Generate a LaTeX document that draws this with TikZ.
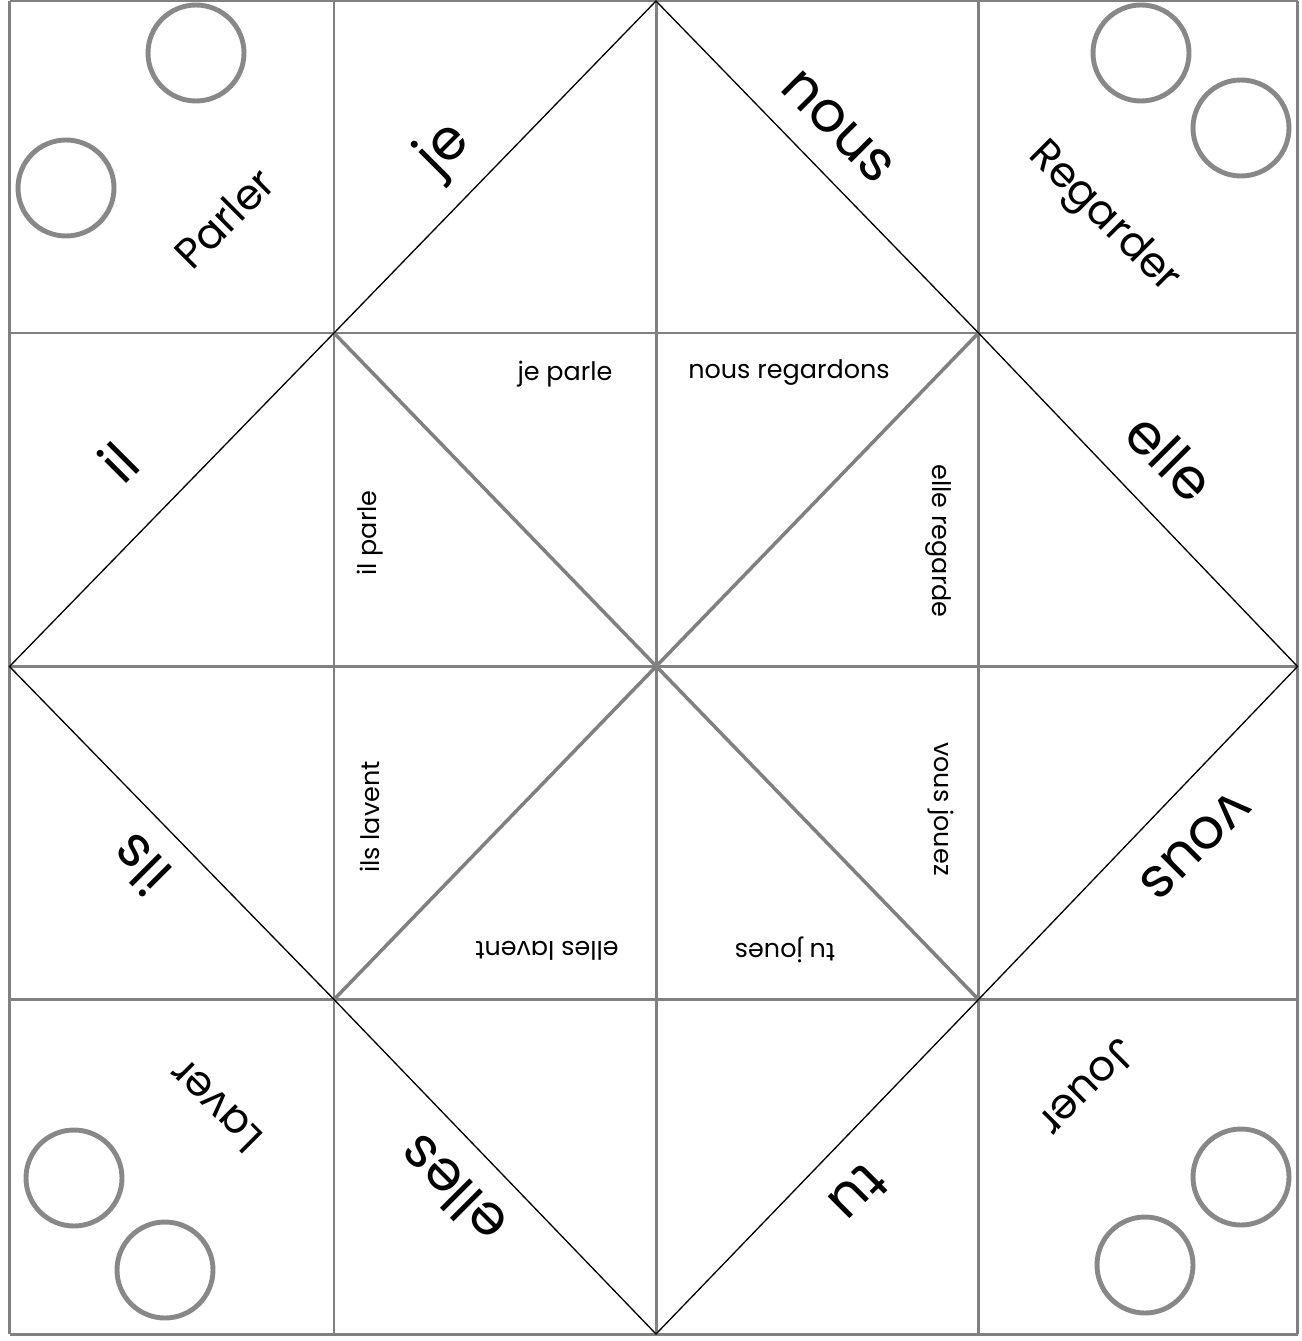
\documentclass[tikz,border=0pt]{standalone}
\usepackage{fontspec}
\setmainfont{Poppins}
\newfontfamily\handfont{Poppins}
\usepackage{xcolor}

\definecolor{foldgray}{RGB}{128,128,128}
\definecolor{ringgray}{RGB}{136,136,136}

\tikzset{
  gridline/.style={foldgray, line width=1.7pt},
  crease/.style={foldgray, line width=2pt},
  foldline/.style={black, line width=0.75pt},
  ring/.style={ringgray, line width=2.8pt},
  bigword/.style={font=\handfont\fontsize{32}{38}\selectfont, inner sep=0pt},
  verbword/.style={font=\handfont\fontsize{24}{29}\selectfont, inner sep=0pt},
  answer/.style={font=\fontsize{14.5}{17}\selectfont, inner sep=0pt}
}

\begin{document}
\begin{tikzpicture}[x=0.02cm, y=-0.02cm]
  \useasboundingbox (0,0) rectangle (1301,1341);

  % Square grid of the folding sheet
  \foreach \x in {9.5, 334, 656, 978.5, 1297.5}{
    \draw[gridline] (\x,1) -- (\x,1334);
  }
  \foreach \y in {1, 333, 666.5, 999.5, 1334}{
    \draw[gridline] (9.5,\y) -- (1297.5,\y);
  }

  % Corners of the diamond
  \coordinate (top) at (656,1);
  \coordinate (right) at (1297.5,666.5);
  \coordinate (bottom) at (656,1334);
  \coordinate (left) at (9.5,666.5);
  \coordinate (nw) at (334,333);
  \coordinate (ne) at (978.5,333);
  \coordinate (sw) at (334,999.5);
  \coordinate (se) at (978.5,999.5);

  % Inner creases through the middle
  \draw[crease] (nw) -- (se);
  \draw[crease] (ne) -- (sw);

  % Outer fold lines
  \draw[foldline] (top) -- (ne) -- (right) -- (se) -- (bottom) -- (sw) -- (left) -- (nw) -- cycle;

  % Colour dots in the corners
  \foreach \cx/\cy in {196/53, 66/188, 1141/53, 1241/128, 74/1178, 165/1270, 1241/1177, 1145/1265}{
    \draw[ring] (\cx,\cy) circle (48);
  }

  % Verbs in the corner squares
  \foreach \nm/\x/\y/\ang in {Parler/224/218/45, Regarder/1103/218/-45,
                              Laver/216/1106/135, Jouer/1088/1088/-135}{
    \node[verbword, rotate=\ang] (\nm) at (\x,\y) {\nm};
  }

  % Pronouns along the fold lines
  \foreach \nm/\x/\y/\ang in {je/445/150/45, nous/838/127/-45, il/118/462/45, elle/1170/457/-45,
                              ils/140/865/135, vous/1195/845/-135, elles/452/1190/135, tu/858/1193/-135}{
    \node[bigword, rotate=\ang] (\nm) at (\x,\y) {\nm};
  }

  % Conjugated answers inside
  \node[answer] (jeparle) at (565,374) {je parle};
  \node[answer] (nousregardons) at (789,373) {nous regardons};
  \node[answer, rotate=90] (ilparle) at (370,533) {il parle};
  \node[answer, rotate=-90] (elleregarde) at (938,541) {elle regarde};
  \node[answer, rotate=90] (ilslavent) at (370,817) {ils lavent};
  \node[answer, rotate=-90] (vousjouez) at (941,809) {vous jouez};
  \node[answer, rotate=180] (elleslavent) at (547,951) {elles lavent};
  \node[answer, rotate=180] (tujoues) at (785,950) {tu joues};
\end{tikzpicture}
\end{document}
